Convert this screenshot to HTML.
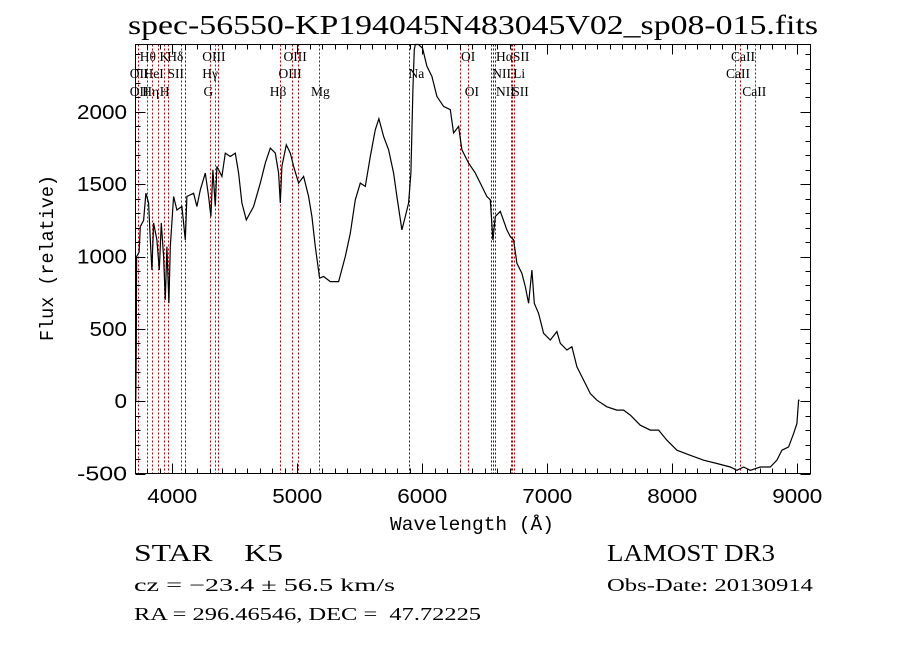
<!DOCTYPE html>
<html><head><meta charset="utf-8"><style>
html,body{margin:0;padding:0;background:#fff;}
svg{display:block;}
</style></head><body>
<svg id="chart" width="900" height="649" viewBox="0 0 900 649" xmlns="http://www.w3.org/2000/svg">
<rect x="0" y="0" width="900" height="649" fill="#fff"/>
<text x="473" y="34" text-anchor="middle" font-family="Liberation Serif, serif" font-size="27" textLength="690" lengthAdjust="spacingAndGlyphs">spec-56550-KP194045N483045V02_sp08-015.fits</text>
<g id="lines"></g>
<g id="labels" font-family="Liberation Serif, serif" font-size="13.5"></g>
<g id="ticks"></g>
<path id="spec" fill="none" stroke="#000" stroke-width="1.2"/>
<rect x="135.5" y="44.5" width="675" height="429" fill="none" stroke="#000" stroke-width="1"/>
<g id="ticklabels" font-family="Liberation Sans, sans-serif" font-size="20"></g>
<text x="472" y="530" text-anchor="middle" font-family="Liberation Mono, monospace" font-size="19" textLength="164" lengthAdjust="spacingAndGlyphs">Wavelength (Å)</text>
<text transform="translate(53,258) rotate(-90)" text-anchor="middle" font-family="Liberation Mono, monospace" font-size="19" textLength="166" lengthAdjust="spacingAndGlyphs">Flux (relative)</text>
<g font-family="Liberation Serif, serif">
<text x="134" y="561" font-size="24" textLength="149" lengthAdjust="spacingAndGlyphs">STAR&#160;&#160;&#160;&#160;K5</text>
<text x="607" y="561" font-size="24" textLength="168" lengthAdjust="spacingAndGlyphs">LAMOST DR3</text>
<text x="134" y="591" font-size="18" textLength="261" lengthAdjust="spacingAndGlyphs">cz = −23.4 ± 56.5 km/s</text>
<text x="607" y="591" font-size="18" textLength="206" lengthAdjust="spacingAndGlyphs">Obs-Date: 20130914</text>
<text x="134" y="620" font-size="18" textLength="347" lengthAdjust="spacingAndGlyphs">RA = 296.46546, DEC = &#160;47.72225</text>
</g>
</svg>
<script>
const wavelengths=[3708,3712,3715,3735,3744,3771,3789,3811,3824,3837,3851,3877,3896,3912,3931,3944,3957,3973,3984,4011,4037,4077,4104,4117,4171,4197,4224,4264,4291,4309,4325,4344,4357,4397,4424,4464,4504,4531,4557,4592,4651,4704,4744,4784,4824,4851,4864,4877,4912,4944,4971,5011,5051,5091,5117,5144,5179,5211,5264,5331,5384,5424,5464,5504,5544,5584,5624,5653,5691,5731,5771,5797,5837,5864,5891,5909,5925,5936,5944,5970,6003,6037,6077,6117,6171,6224,6251,6291,6317,6371,6424,6464,6517,6544,6565,6584,6624,6677,6704,6731,6757,6797,6824,6851,6877,6896,6931,6971,7024,7077,7104,7157,7197,7237,7291,7344,7397,7477,7557,7611,7664,7744,7824,7891,7957,8037,8144,8251,8357,8464,8517,8571,8624,8704,8784,8837,8877,8931,8971,8997,9011,9019];
const fluxValues=[0,400,1000,1030,1207,1250,1438,1370,1115,907,1232,1115,907,1232,1000,700,1069,678,1069,1415,1322,1346,1115,1415,1438,1346,1461,1577,1415,1277,1600,1346,1623,1554,1715,1692,1715,1577,1370,1253,1346,1508,1646,1750,1715,1577,1370,1623,1773,1715,1623,1508,1554,1415,1277,1069,850,862,827,827,1000,1161,1392,1508,1485,1692,1877,1953,1830,1738,1577,1415,1184,1277,1370,1577,2154,2431,2466,2480,2440,2315,2246,2107,2038,2015,1854,1900,1738,1646,1577,1508,1415,1392,1115,1277,1312,1184,1138,1115,953,884,792,677,907,677,607,469,423,481,400,354,377,238,146,53,7,-39,-62,-62,-96,-166,-200,-200,-270,-339,-374,-408,-431,-455,-478,-455,-478,-455,-455,-408,-339,-316,-224,-155,7,7];
const markerWaves=[3727,3799,3836,3889,3934,3969,4072,4102,4305,4341,4363,4861,4959,5007,5175,5893,6300,6364,6548,6563,6583,6708,6716,6731,8498,8542,8662];
const markerColors=["r","r","r","r","r","r","r","k","r","r","r","r","r","r","r","k","r","r","k","k","k","r","r","r","r","r","r"];
const labelTexts=["Hθ","K","Hδ","OIII","OIII","OI","HαSII","CaII","OII","HeI","SII","Hγ","OIII","Na","NII","Li","CaII","OII","Hη","H","G","Hβ","Mg","OI","NII","SII","CaII"];
const labelWaves=[3740,3898,3960,4240,4890,6310,6590,8470,3660,3770,3962,4240,4850,5890,6560,6727,8430,3660,3760,3900,4250,4780,5110,6340,6590,6720,8560];
const labelRows=[0,0,0,0,0,0,0,0,1,1,1,1,1,1,1,1,1,2,2,2,2,2,2,2,2,2,2];
const xTicks=[4000,5000,6000,7000,8000,9000];
const yTicks=[-500,0,500,1000,1500,2000];
const X0=135.5,X1=810.5,Y0=44.5,Y1=473.5;
const WMIN=3706,WMAX=9106,FMIN=-500,FMAX=2466;
function xs(w){return X0+(w-WMIN)/(WMAX-WMIN)*(X1-X0);}
function ys(f){return Y1-(f-FMIN)/(FMAX-FMIN)*(Y1-Y0);}
const NS="http://www.w3.org/2000/svg";
let d="";
for(let i=0;i<wavelengths.length;i++){const f=Math.min(Math.max(fluxValues[i],FMIN),FMAX);d+=(i?"L":"M")+xs(wavelengths[i]).toFixed(1)+","+ys(f).toFixed(1);}
document.getElementById("spec").setAttribute("d",d);
const lg=document.getElementById("lines");
markerWaves.forEach((w,i)=>{const l=document.createElementNS(NS,"line");


const x=Math.round(xs(w))+0.5;l.setAttribute("x1",x);l.setAttribute("x2",x);l.setAttribute("y1",Y0);l.setAttribute("y2",Y1);
l.setAttribute("stroke",markerColors[i]=="r"?"#c00000":"#222");l.setAttribute("stroke-width","1");l.setAttribute("stroke-dasharray","2,2");lg.appendChild(l);});
const lb=document.getElementById("labels");const rowY=[61,78,96];
labelTexts.forEach((t,i)=>{const e=document.createElementNS(NS,"text");


e.setAttribute("x",xs(labelWaves[i]).toFixed(1));e.setAttribute("y",rowY[labelRows[i]]);e.textContent=t;lb.appendChild(e);});
const tg=document.getElementById("ticks");
function tick(x1,y1,x2,y2){const l=document.createElementNS(NS,"line");


l.setAttribute("x1",x1);l.setAttribute("y1",y1);l.setAttribute("x2",x2);l.setAttribute("y2",y2);l.setAttribute("stroke","#000");tg.appendChild(l);}
for(let w=3800;w<=9100;w+=100){const x=Math.round(xs(w))+0.5;const L=(w%1000==0)?10:5;tick(x,Y1,x,Y1-L);tick(x,Y0,x,Y0+L);}
for(let f=-500;f<=2400;f+=100){const y=Math.round(ys(f))+0.5;const L=(f%500==0)?10:5;tick(X0,y,X0+L,y);tick(X1,y,X1-L,y);}
const tl=document.getElementById("ticklabels");
xTicks.forEach(v=>{const e=document.createElementNS(NS,"text");


e.setAttribute("x",xs(v));e.setAttribute("y",503);e.setAttribute("text-anchor","middle");
e.setAttribute("textLength",String(v).length*12.5);e.setAttribute("lengthAdjust","spacingAndGlyphs");
e.textContent=v;tl.appendChild(e);});
yTicks.forEach(v=>{const e=document.createElementNS(NS,"text");


e.setAttribute("x",127);e.setAttribute("y",ys(v)+7);e.setAttribute("text-anchor","end");
e.setAttribute("textLength",String(v).length*12.5);e.setAttribute("lengthAdjust","spacingAndGlyphs");
e.textContent=v;tl.appendChild(e);});
</script>
</body></html>
